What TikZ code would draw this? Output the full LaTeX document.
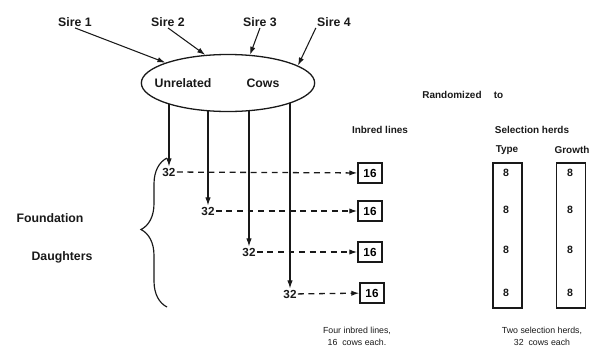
\documentclass[tikz,border=0pt]{standalone}
\usepackage{fontspec}
\setmainfont{Liberation Sans}
\usepackage{tikz}
\usetikzlibrary{arrows.meta,positioning,shapes.geometric,backgrounds,decorations.pathreplacing}
\colorlet{herdink}{black!90}
\tikzset{
  herdtext/.style={font=\fontsize{10.5}{12}\selectfont\bfseries,inner sep=1pt,herdink},
  herdhead/.style={font=\fontsize{8.5}{10}\selectfont\bfseries,inner sep=1pt,herdink},
  herdnote/.style={font=\fontsize{7.5}{9}\selectfont,inner sep=1pt,herdink},
  herdcount/.style={font=\fontsize{10}{12}\selectfont\bfseries,inner sep=1pt,herdink},
  herdpool/.style={ellipse,draw=herdink,line width=1.1pt,fill=white,
                   minimum width=5.2cm,minimum height=1.71cm,inner sep=0pt},
  herdline/.style={draw=herdink,line width=1.2pt,minimum width=0.72cm,
                   minimum height=0.6cm,inner sep=0pt,
                   font=\fontsize{10}{12}\selectfont\bfseries},
  herdsel/.style={draw=herdink,line width=1.2pt,minimum width=0.87cm,
                  minimum height=4.35cm,inner sep=0pt},
  herdeight/.style={font=\fontsize{9}{10}\selectfont\bfseries,inner sep=0pt,herdink},
  sireflow/.style={-{Latex[length=2.4mm,width=1.6mm]},line width=0.9pt,herdink},
  cowflow/.style={-{Latex[length=2.4mm,width=1.6mm]},line width=0.9pt,herdink},
  splitflow/.style={-{Latex[length=2.4mm,width=1.6mm]},line width=1.1pt,
                    dash pattern=on 5pt off 4pt,herdink}
}
\begin{document}
\begin{tikzpicture}[x=0.03cm,y=-0.03cm]
  \useasboundingbox (0,0) rectangle (611,353);

  % sires and the cow pool
  \node[herdtext] (sire1) at (75,22) {Sire 1};
  \node[herdtext] (sire2) at (168,22) {Sire 2};
  \node[herdtext] (sire3) at (260,22) {Sire 3};
  \node[herdtext] (sire4) at (334,22) {Sire 4};
  \node[herdpool] (cows) at (228,83) {};
  \node[herdtext] (unrel) at (183,83) {Unrelated};
  \node[herdtext] (cowword) at (263,83) {Cows};

  \draw[sireflow] (sire1.south) -- (cows.162);
  \draw[sireflow] (sire2.south) -- (cows.129);
  \draw[sireflow] (sire3.south) -- (cows.52);
  \draw[sireflow] (sire4.south west) -- (cows.14);

  % foundation daughters
  \node[herdcount] (fd1) at (169,172) {32};
  \node[herdcount] (fd2) at (208,211) {32};
  \node[herdcount] (fd3) at (249,252) {32};
  \node[herdcount] (fd4) at (290,294) {32};

  \begin{scope}[on background layer]
    \draw[cowflow] (cows.center -| fd1.north) -- (fd1.north);
    \draw[cowflow] (cows.center -| fd2.north) -- (fd2.north);
    \draw[cowflow] (cows.center -| fd3.north) -- (fd3.north);
    \draw[cowflow] (cows.center -| fd4.north) -- (fd4.north);
  \end{scope}

  % inbred lines
  \node[herdline] (ib1) at (370,173) {16};
  \node[herdline] (ib2) at (370,211) {16};
  \node[herdline] (ib3) at (370,252) {16};
  \node[herdline] (ib4) at (372,293) {16};

  \draw[splitflow] (fd1) -- (ib1);
  \draw[splitflow] (fd2) -- (ib2);
  \draw[splitflow] (fd3) -- (ib3);
  \draw[splitflow] (fd4) -- (ib4);

  \coordinate (bracetop) at (167,158);
  \coordinate (bracebot) at (167,307);
  \draw[line width=1pt,herdink,decorate,decoration={brace,amplitude=0.78cm,aspect=0.52}]
    (bracebot) -- (bracetop);
  \node[herdtext] (found) at (50,218) {Foundation};
  \node[herdtext] (daught) at (62,257) {Daughters};

  % selection herds
  \node[herdhead] (rand) at (452,95) {Randomized};
  \node[herdhead,right=8pt of rand] (randto) {to};
  \node[herdhead] (inbhead) at (380,130) {Inbred lines};
  \node[herdhead] (selhead) at (532,130) {Selection herds};
  \node[herdhead] (typehead) at (507,150) {Type};
  \node[herdhead] (growhead) at (572,150) {Growth};

  \node[herdsel] (typebox) at (507.5,235.5) {};
  \node[herdsel] (growbox) at (571,235.5) {};
  \foreach \yy in {173,210,250,293} {
    \node[herdeight] at (506,\yy) {8};
    \node[herdeight] at (570,\yy) {8};
  }

  \node[herdnote,align=center] (inbnote) at (357,336)
    {Four inbred lines,\\[1pt]16 \ cows each.};
  \node[herdnote,align=center] (selnote) at (542,336)
    {Two selection herds,\\[1pt]32 \ cows each};
\end{tikzpicture}
\end{document}
